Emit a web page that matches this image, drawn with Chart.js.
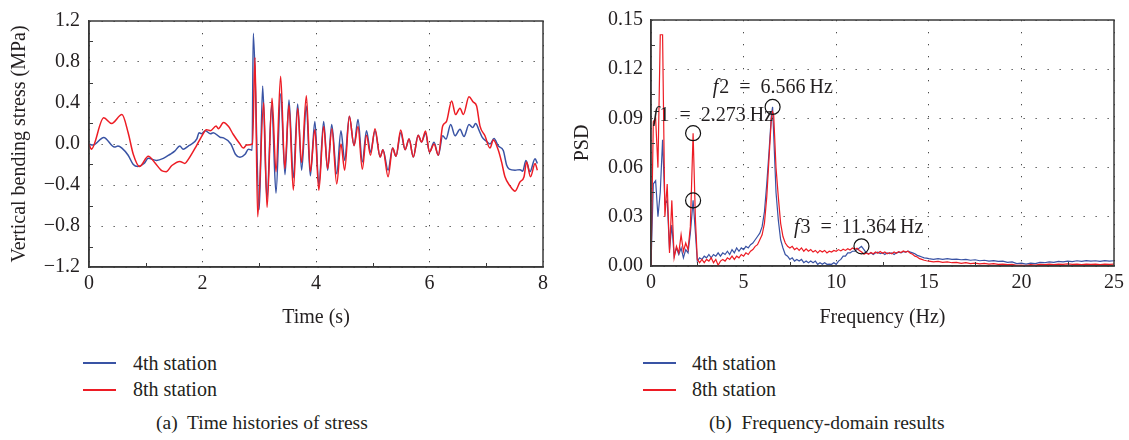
<!DOCTYPE html>
<html><head><meta charset="utf-8">
<script src="https://cdn.jsdelivr.net/npm/chart.js@4.4.1/dist/chart.umd.min.js"></script>
<style>
body{margin:0;background:#fff;width:1129px;height:440px;overflow:hidden;position:relative;font-family:"Liberation Serif",serif;color:#231f20;}
canvas{position:absolute;top:0;}
.txt{position:absolute;font-size:20px;line-height:24px;white-space:pre;}
.ln{position:absolute;height:2px;width:33px;}
</style></head><body>
<canvas id="c1" width="560" height="340" style="left:0"></canvas>
<canvas id="c2" width="569" height="340" style="left:560px"></canvas>

<div class="ln" style="left:83px;top:362px;background-color:#3953a4"></div>
<div class="txt" style="left:133px;top:350.5px">4th station</div>
<div class="ln" style="left:83px;top:389px;background-color:#ed1c24"></div>
<div class="txt" style="left:133px;top:377.3px">8th station</div>
<div class="txt" style="left:156px;top:410.5px;font-size:19.5px">(a)  Time histories of stress</div>

<div class="ln" style="left:643px;top:362px;background-color:#3953a4"></div>
<div class="txt" style="left:692px;top:350.5px">4th station</div>
<div class="ln" style="left:643px;top:389px;background-color:#ed1c24"></div>
<div class="txt" style="left:692px;top:377.3px">8th station</div>
<div class="txt" style="left:709px;top:410.5px;font-size:19.5px">(b)  Frequency-domain results</div>

<script>
// ---------- data ----------
const seriesNames = ['4th station', '8th station'];

// Time histories of vertical bending stress [time (s), stress (MPa)]
const stress4th = [[0,0],[0.07,-0.01],[0.26,0.064],[0.45,-0.03],[0.51,-0.02],[0.58,-0.04],[0.69,-0.11],[0.78,-0.2],[0.86,-0.22],[0.97,-0.19],[1.045,-0.14],[1.19,-0.16],[1.31,-0.14],[1.43,-0.1],[1.51,-0.07],[1.6,-0.02],[1.66,-0.05],[1.75,-0.02],[1.81,0.0],[1.9,0.05],[1.94,0.11],[1.98,0.1],[2.05,0.13],[2.14,0.1],[2.19,0.11],[2.31,0.066],[2.37,0.06],[2.5,0.0],[2.58,-0.1],[2.66,-0.13],[2.75,-0.1],[2.81,-0.05],[2.875,-0.06],[2.895,1.08],[3.0,-0.64],[3.06,0.567],[3.135,-0.54],[3.22,0.38],[3.295,-0.48],[3.377,0.49],[3.454,-0.3],[3.524,0.43],[3.6,-0.33],[3.677,0.39],[3.746,-0.255],[3.83,0.37],[3.9,-0.31],[3.98,0.22],[4.05,-0.4],[4.135,0.22],[4.205,-0.255],[4.277,0.19],[4.365,-0.29],[4.44,0.13],[4.505,-0.16],[4.588,0.27],[4.67,-0.016],[4.74,0.24],[4.816,-0.175],[4.89,0.13],[4.96,-0.08],[5.04,0.13],[5.13,-0.127],[5.18,-0.055],[5.27,-0.255],[5.35,-0.04],[5.41,-0.12],[5.493,0.11],[5.57,-0.055],[5.64,0.048],[5.715,-0.127],[5.8,0.086],[5.86,0.02],[5.93,0.105],[6.0,-0.08],[6.08,0.016],[6.155,-0.11],[6.232,0.08],[6.29,0.048],[6.373,0.19],[6.45,0.08],[6.537,0.143],[6.608,0.073],[6.696,0.19],[6.76,0.16],[6.813,0.2],[6.878,0.127],[6.93,0.064],[6.996,0.03],[7.066,0.0],[7.137,0.054],[7.213,-0.02],[7.3,-0.064],[7.36,-0.207],[7.406,-0.245],[7.507,-0.255],[7.595,-0.25],[7.642,-0.265],[7.7,-0.16],[7.77,-0.27],[7.86,-0.145],[7.9,-0.19]];
const stress8th = [[0,0],[0.04,-0.05],[0.26,0.255],[0.4,0.2],[0.58,0.287],[0.69,0.11],[0.78,-0.1],[0.89,-0.22],[1.045,-0.12],[1.15,-0.175],[1.28,-0.26],[1.36,-0.27],[1.46,-0.21],[1.6,-0.17],[1.69,-0.19],[1.75,-0.15],[1.9,-0.01],[1.98,0.07],[2.07,0.14],[2.14,0.13],[2.24,0.175],[2.28,0.15],[2.37,0.21],[2.46,0.17],[2.54,0.095],[2.66,0.0],[2.72,-0.04],[2.78,-0.01],[2.88,0.0],[2.925,0.845],[2.972,-0.71],[3.078,0.405],[3.137,-0.62],[3.225,0.446],[3.295,-0.27],[3.377,0.66],[3.45,-0.24],[3.524,0.38],[3.6,-0.45],[3.677,0.35],[3.746,-0.18],[3.83,0.47],[3.9,-0.27],[3.98,0.14],[4.05,-0.45],[4.135,0.17],[4.205,-0.24],[4.28,0.15],[4.365,-0.39],[4.44,0.0],[4.505,-0.255],[4.588,0.27],[4.67,-0.016],[4.74,0.17],[4.816,-0.245],[4.89,0.086],[4.96,-0.11],[5.04,0.15],[5.13,-0.127],[5.18,-0.055],[5.27,-0.32],[5.35,-0.04],[5.41,-0.12],[5.493,0.137],[5.57,-0.055],[5.64,0.048],[5.715,-0.127],[5.8,0.086],[5.86,0.02],[5.93,0.127],[6.0,-0.08],[6.08,0.0],[6.155,-0.11],[6.232,0.175],[6.3,0.22],[6.39,0.42],[6.46,0.287],[6.537,0.35],[6.596,0.287],[6.696,0.46],[6.77,0.41],[6.83,0.37],[6.89,0.175],[6.977,0.08],[7.066,-0.04],[7.125,0.04],[7.213,-0.06],[7.27,-0.175],[7.33,-0.32],[7.42,-0.41],[7.507,-0.46],[7.595,-0.37],[7.666,-0.32],[7.71,-0.175],[7.78,-0.32],[7.86,-0.19],[7.9,-0.255]];

// Power spectral density [frequency (Hz), PSD]
const psd4th = [[0,0],[0.125,0.05],[0.25,0.052],[0.375,0.03],[0.5,0.045],[0.625,0.077],[0.75,0.038],[0.875,0.04],[1.0,0.01],[1.125,0.025],[1.25,0.006],[1.375,0.011],[1.5,0.007],[1.625,0.011],[1.75,0.005],[1.875,0.01],[2.0,0.008],[2.125,0.02],[2.273,0.04],[2.4,0.02],[2.5,0.003],[2.625,0.005],[2.75,0.004],[2.875,0.006],[3.0,0.005],[3.125,0.007],[3.25,0.005],[3.375,0.007],[3.5,0.006],[3.625,0.008],[3.75,0.006],[3.875,0.008],[4.0,0.007],[4.125,0.009],[4.25,0.007],[4.375,0.01],[4.5,0.008],[4.625,0.011],[4.75,0.009],[4.875,0.011],[5.0,0.01],[5.125,0.012],[5.25,0.011],[5.375,0.013],[5.5,0.014],[5.625,0.016],[5.75,0.018],[5.875,0.02],[6.0,0.024],[6.125,0.033],[6.25,0.05],[6.375,0.07],[6.5,0.092],[6.566,0.097],[6.625,0.08],[6.75,0.045],[6.875,0.028],[7.0,0.016],[7.125,0.011],[7.25,0.007],[7.375,0.006],[7.5,0.004],[7.625,0.005],[7.75,0.003],[7.875,0.004],[8.0,0.003],[8.125,0.004],[8.25,0.002],[8.375,0.003],[8.5,0.002],[8.625,0.003],[8.75,0.002],[8.875,0.003],[9.0,0.001],[9.125,0.002],[9.25,0.001],[9.375,0.002],[9.5,0.001],[9.625,0.0012],[9.75,0.001],[9.875,0.002],[10.0,0.001],[10.125,0.003],[10.25,0.004],[10.375,0.006],[10.5,0.006],[10.625,0.008],[10.75,0.008],[10.875,0.009],[11.0,0.009],[11.125,0.01],[11.25,0.011],[11.364,0.012],[11.5,0.01],[11.625,0.008],[11.75,0.0075],[11.875,0.008],[12.0,0.007],[12.125,0.008],[12.25,0.0085],[12.375,0.0075],[12.5,0.008],[12.625,0.007],[12.75,0.008],[12.875,0.0075],[13.0,0.008],[13.125,0.007],[13.25,0.008],[13.375,0.0085],[13.5,0.008],[13.625,0.0088],[13.75,0.0085],[13.875,0.009],[14.0,0.0085],[14.125,0.008],[14.25,0.0075],[14.375,0.0065],[14.5,0.006],[14.625,0.0055],[14.75,0.005],[14.875,0.0048],[15.0,0.0045],[15.25,0.004],[15.5,0.0045],[15.75,0.004],[16.0,0.0045],[16.25,0.004],[16.5,0.0042],[16.75,0.0038],[17.0,0.004],[17.25,0.0035],[17.5,0.0038],[17.75,0.0032],[18.0,0.0035],[18.25,0.003],[18.5,0.0033],[18.75,0.0028],[19.0,0.003],[19.25,0.0022],[19.5,0.0025],[19.75,0.0015],[20.0,0.0018],[20.25,0.0012],[20.5,0.0018],[20.75,0.0015],[21.0,0.0022],[21.25,0.002],[21.5,0.0025],[21.75,0.0022],[22.0,0.0028],[22.25,0.0025],[22.5,0.003],[22.75,0.0027],[23.0,0.0032],[23.25,0.0028],[23.5,0.0033],[23.75,0.003],[24.0,0.0032],[24.25,0.0028],[24.5,0.0033],[24.75,0.003],[25.0,0.0032]];
const psd8th = [[0,0],[0.125,0.088],[0.25,0.09],[0.375,0.06],[0.5,0.141],[0.625,0.141],[0.75,0.03],[0.875,0.05],[1.0,0.008],[1.125,0.04],[1.25,0.005],[1.375,0.012],[1.5,0.008],[1.625,0.019],[1.75,0.009],[1.875,0.014],[2.0,0.01],[2.125,0.024],[2.273,0.081],[2.4,0.028],[2.5,0.004],[2.625,0.002],[2.75,0.004],[2.875,0.002],[3.0,0.004],[3.125,0.003],[3.25,0.005],[3.375,0.002],[3.5,0.004],[3.625,0.0005],[3.75,0.003],[3.875,0.004],[4.0,0.003],[4.125,0.005],[4.25,0.004],[4.375,0.006],[4.5,0.004],[4.625,0.006],[4.75,0.005],[4.875,0.007],[5.0,0.006],[5.125,0.008],[5.25,0.007],[5.375,0.009],[5.5,0.01],[5.625,0.012],[5.75,0.013],[5.875,0.016],[6.0,0.019],[6.125,0.026],[6.25,0.042],[6.375,0.066],[6.5,0.09],[6.566,0.094],[6.625,0.092],[6.75,0.06],[6.875,0.042],[7.0,0.026],[7.125,0.018],[7.25,0.014],[7.375,0.012],[7.5,0.011],[7.625,0.012],[7.75,0.01],[7.875,0.011],[8.0,0.0095],[8.125,0.011],[8.25,0.009],[8.375,0.0105],[8.5,0.009],[8.625,0.01],[8.75,0.0085],[8.875,0.0095],[9.0,0.008],[9.125,0.0095],[9.25,0.0085],[9.375,0.0095],[9.5,0.008],[9.625,0.009],[9.75,0.0085],[9.875,0.0095],[10.0,0.009],[10.125,0.01],[10.25,0.0092],[10.375,0.0102],[10.5,0.0095],[10.625,0.0105],[10.75,0.0098],[10.875,0.011],[11.0,0.0102],[11.125,0.0108],[11.25,0.0095],[11.375,0.0085],[11.5,0.0072],[11.625,0.008],[11.75,0.0072],[11.875,0.0082],[12.0,0.0075],[12.125,0.0085],[12.25,0.0078],[12.375,0.0088],[12.5,0.0078],[12.625,0.0085],[12.75,0.0075],[12.875,0.0082],[13.0,0.0075],[13.125,0.0085],[13.25,0.0078],[13.375,0.0088],[13.5,0.0082],[13.625,0.0092],[13.75,0.0085],[13.875,0.009],[14.0,0.0078],[14.125,0.0072],[14.25,0.006],[14.375,0.0055],[14.5,0.0045],[14.625,0.004],[14.75,0.0035],[14.875,0.0032],[15.0,0.003],[15.25,0.0025],[15.5,0.0028],[15.75,0.0022],[16.0,0.0025],[16.25,0.002],[16.5,0.0022],[16.75,0.0016],[17.0,0.002],[17.25,0.0015],[17.5,0.0018],[17.75,0.0013],[18.0,0.0016],[18.25,0.0012],[18.5,0.0015],[18.75,0.001],[19.0,0.0012],[19.25,0.0008],[19.5,0.001],[19.75,0.0004],[20.0,0.0006],[20.25,0.0003],[20.5,0.0008],[20.75,0.0006],[21.0,0.001],[21.25,0.0008],[21.5,0.0012],[21.75,0.0009],[22.0,0.0012],[22.25,0.001],[22.5,0.0013],[22.75,0.001],[23.0,0.0012],[23.25,0.0009],[23.5,0.0012],[23.75,0.001],[24.0,0.0012],[24.25,0.0009],[24.5,0.0011],[24.75,0.001],[25.0,0.0012]];

// Marked peaks [frequency, PSD] and their labels
const peakMarks = [[2.273,0.081],[2.273,0.04],[6.566,0.097],[11.364,0.012]];
const peakLabels = [
  {name:'1', text:'2.273', at:[0.1,0.0882]},
  {name:'2', text:'6.566', at:[3.33,0.1056]},
  {name:'3', text:'11.364', at:[7.72,0.0204]}
];

// Tick labels
const timeTicks = [0,2,4,6,8];
const timeMinor = [1,3,5,7];
const stressTicks = [-1.2,-0.8,-0.4,0,0.4,0.8,1.2];
const stressMinor = [-1.0,-0.6,-0.2,0.2,0.6,1.0];
const freqTicks = [0,5,10,15,20,25];
const freqMinor = [2.5,7.5,12.5,17.5,22.5];
const psdTicks = [0,0.03,0.06,0.09,0.12,0.15];
const psdMinor = [0.015,0.045,0.075,0.105,0.135];

// ---------- styling ----------
const BLUE = '#3953a4', RED = '#ed1c24', INK = '#231f20';
const FONT = '"Liberation Serif", "Times New Roman", serif';
const FS = 20;

const framePlugin = {
  id: 'frame',
  afterDatasetsDraw(chart, args, o) {
    const {ctx, chartArea: a, scales: {x, y}} = chart;
    ctx.save();
    ctx.strokeStyle = '#3a3a3a';
    ctx.lineWidth = 1;
    ctx.beginPath();
    (o.minorX || []).forEach(v => {
      const px = Math.round(x.getPixelForValue(v)) + 0.5;
      ctx.moveTo(px, a.bottom); ctx.lineTo(px, a.bottom - 4);
    });
    (o.minorY || []).forEach(v => {
      const py = Math.round(y.getPixelForValue(v)) + 0.5;
      ctx.moveTo(a.left, py); ctx.lineTo(a.left + 4, py);
    });
    ctx.stroke();
    ctx.lineWidth = 1.5;
    ctx.strokeRect(a.left, a.top, a.right - a.left, a.bottom - a.top);
    ctx.restore();
  }
};

const notePlugin = {
  id: 'notes',
  afterDatasetsDraw(chart, args, o) {
    if (!o.items) return;
    const {ctx, scales: {x, y}} = chart;
    ctx.save();
    ctx.fillStyle = INK;
    ctx.textBaseline = 'alphabetic';
    o.items.forEach(it => {
      const px = x.getPixelForValue(it.at[0]);
      const py = y.getPixelForValue(it.at[1]);
      ctx.font = 'italic 20px ' + FONT;
      ctx.fillText('f', px, py);
      const w = ctx.measureText('f').width + 1;
      ctx.font = '20px ' + FONT;
      ctx.fillText(it.name + '\u2002=\u2002' + it.text + '\u2009Hz', px + w, py);
    });
    ctx.restore();
  }
};

function pts(arr) { return arr.map(p => ({x: p[0], y: p[1]})); }

function axis(opts) {
  return {
    type: 'linear', min: opts.min, max: opts.max, position: opts.position,
    afterBuildTicks: s => { s.ticks = opts.ticks.map(v => ({value: v})); },
    afterFit: opts.fit,
    grid: {color: '#4a4a4a', lineWidth: 1, drawTicks: false},
    border: {display: true, color: '#3a3a3a', width: 1.5, dash: [1.3, 10.7]},
    ticks: {padding: opts.pad, color: INK, font: {family: FONT, size: FS}, maxRotation: 0, autoSkip: false, callback: opts.fmt},
    title: {display: true, text: opts.title, color: INK, font: {family: FONT, size: FS}, padding: opts.tpad}
  };
}

const fmtStress = v => (v < 0 ? '\u2212' : '') + Math.abs(v).toFixed(1);

new Chart(document.getElementById('c1'), {
  type: 'line',
  data: {datasets: [
    {label: seriesNames[0], data: pts(stress4th), borderColor: BLUE, borderWidth: 1.5, pointRadius: 0, cubicInterpolationMode: 'monotone', order: 2},
    {label: seriesNames[1], data: pts(stress8th), borderColor: RED, borderWidth: 1.5, pointRadius: 0, cubicInterpolationMode: 'monotone', order: 1}
  ]},
  options: {
    responsive: false, animation: false,
    layout: {padding: {top: 16, right: 17, left: 0, bottom: 0}},
    plugins: {legend: {display: false}, tooltip: {enabled: false},
      frame: {minorX: timeMinor, minorY: stressMinor}},
    scales: {
      x: axis({min: 0, max: 8, position: 'bottom', ticks: timeTicks, pad: 5, title: 'Time (s)',
        tpad: {top: 0, bottom: 10}, fit: s => { s.height = 73; }, fmt: v => String(v)}),
      y: axis({min: -1.2, max: 1.2, position: 'left', ticks: stressTicks, pad: 9, title: 'Vertical bending stress (MPa)',
        tpad: {top: 8, bottom: 0}, fit: s => { s.width = 89; }, fmt: fmtStress})
    }
  },
  plugins: [framePlugin]
});

new Chart(document.getElementById('c2'), {
  type: 'line',
  data: {datasets: [
    {label: 'peaks', data: pts(peakMarks), showLine: false, pointRadius: 7.5, pointStyle: 'circle', pointBorderColor: '#111', pointBorderWidth: 1.2, pointBackgroundColor: 'rgba(0,0,0,0)', order: 0},
    {label: seriesNames[0], data: pts(psd4th), borderColor: BLUE, borderWidth: 1.2, pointRadius: 0, tension: 0, order: 2},
    {label: seriesNames[1], data: pts(psd8th), borderColor: RED, borderWidth: 1.2, pointRadius: 0, tension: 0, order: 1}
  ]},
  options: {
    responsive: false, animation: false,
    layout: {padding: {top: 16, right: 14, left: 0, bottom: 0}},
    plugins: {legend: {display: false}, tooltip: {enabled: false},
      frame: {minorX: freqMinor, minorY: psdMinor},
      notes: {items: peakLabels}},
    scales: {
      x: axis({min: 0, max: 25, position: 'bottom', ticks: freqTicks, pad: 5, title: 'Frequency (Hz)',
        tpad: {top: 0, bottom: 10}, fit: s => { s.height = 74; }, fmt: v => String(v)}),
      y: axis({min: 0, max: 0.15, position: 'left', ticks: psdTicks, pad: 8, title: 'PSD',
        tpad: {top: 11, bottom: 0}, fit: s => { s.width = 91; }, fmt: v => v.toFixed(2)})
    }
  },
  plugins: [framePlugin, notePlugin]
});
</script>
</body></html>
